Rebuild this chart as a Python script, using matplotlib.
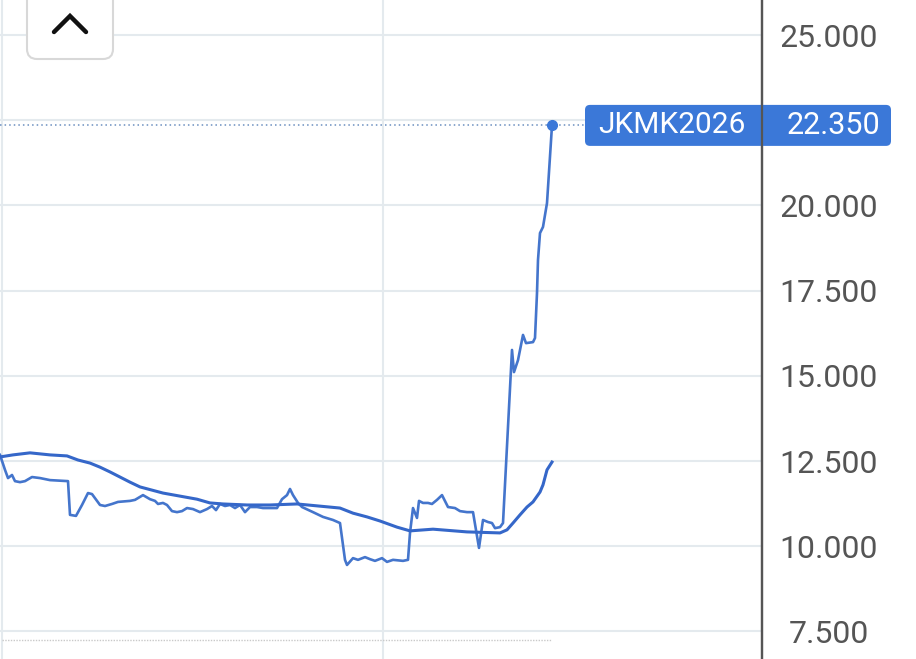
import matplotlib
matplotlib.use('Agg')
import matplotlib.pyplot as plt
import matplotlib.patches as mpatches
from matplotlib.lines import Line2D

plt.rcParams['font.family'] = ['Roboto', 'DejaVu Sans']

W, H = 916, 659

# ── data (time index, price) ──
t_price = [0, 5, 8, 12, 15, 20, 25, 32, 40, 50, 68, 70, 76, 82, 88, 92, 100, 105,
           112, 118, 130, 135, 143, 150, 155, 158, 163, 167, 172, 177, 182, 187,
           193, 200, 207, 212, 216, 220, 225, 230, 235, 240, 245, 250, 257, 263,
           277, 282, 287, 290, 293, 298, 302, 313, 323, 333, 340, 345, 347, 353,
           358, 365, 370, 375, 382, 387, 393, 403, 408, 410, 413, 417, 419, 423,
           428, 432, 437, 442, 448, 455, 460, 467, 473, 479, 483, 488, 492, 495,
           500, 503, 512, 514, 518, 523, 526, 533, 535, 537, 538, 540, 543, 547, 552]
price = [12.68, 12.24, 12.00, 12.09, 11.91, 11.88, 11.91, 12.03, 12.00, 11.94, 11.91,
         10.92, 10.89, 11.21, 11.56, 11.53, 11.21, 11.18, 11.24, 11.30, 11.33, 11.36,
         11.50, 11.38, 11.33, 11.24, 11.27, 11.21, 11.03, 11.00, 11.03, 11.12, 11.09,
         11.00, 11.09, 11.18, 11.06, 11.24, 11.18, 11.21, 11.12, 11.21, 11.00, 11.15,
         11.15, 11.12, 11.12, 11.38, 11.50, 11.68, 11.50, 11.27, 11.15, 11.00, 10.86,
         10.77, 10.68, 9.60, 9.45, 9.65, 9.60, 9.68, 9.62, 9.57, 9.65, 9.54, 9.60,
         9.57, 9.60, 10.39, 11.12, 10.83, 11.33, 11.27, 11.27, 11.24, 11.36, 11.50,
         11.15, 11.12, 11.03, 11.00, 11.00, 9.95, 10.77, 10.71, 10.68, 10.53, 10.56,
         10.68, 15.76, 15.11, 15.46, 16.20, 15.96, 15.99, 16.11, 17.43, 18.40, 19.19,
         19.37, 20.07, 22.35]

# moving average
t_ma = [0, 13, 30, 50, 67, 78, 90, 100, 110, 120, 130, 140, 163, 180, 197, 210, 223,
        247, 270, 297, 340, 353, 367, 380, 397, 410, 433, 467, 500, 507, 513, 520,
        527, 533, 540, 543, 547, 552]
ma = [12.62, 12.68, 12.74, 12.68, 12.65, 12.53, 12.44, 12.32, 12.18, 12.03, 11.88,
      11.74, 11.56, 11.47, 11.38, 11.27, 11.24, 11.21, 11.21, 11.24, 11.12, 10.97,
      10.86, 10.74, 10.56, 10.45, 10.50, 10.42, 10.39, 10.48, 10.68, 10.92, 11.15,
      11.30, 11.59, 11.80, 12.24, 12.47]

yticks = [7.5, 10, 12.5, 15, 17.5, 20, 22.5, 25]
xgrid = [2, 383]
ticker = 'JKMK2026'

BLUE = '#3b78d8'
LINE = '#4475cc'
MA_C = '#3567c9'
GRID = '#e4eaee'
YLIM = (6.69, 26.03)


def px(x, y):
    """figure pixel -> figure fraction (y from top)"""
    return x / W, 1 - y / H


fig = plt.figure(figsize=(W / 100, H / 100), dpi=100)
ax = fig.add_axes([0, 0, 762 / W, 1])
ax.set_xlim(0, 762)
ax.set_ylim(*YLIM)

for yv in yticks:
    ax.axhline(yv, color=GRID, lw=1.5, zorder=0)
for xv in xgrid:
    ax.axvline(xv, color=GRID, lw=1.5, zorder=0)

ax.plot(t_price, price, color=LINE, lw=1.9, zorder=3, solid_joinstyle='round')
ax.plot(t_ma, ma, color=MA_C, lw=2.2, zorder=3)
ax.plot(t_price[-1], price[-1], 'o', color=BLUE, ms=7, zorder=4)

# last value guide line
ax.plot([0, 585], [price[-1], price[-1]], ls=(0, (1, 2)), color='#6b8fc0', lw=1.1, zorder=2)
# faint navigator line at bottom
ax.plot([t_price[0] + 2, t_price[-1]], [7.25, 7.25], ls=(0, (1, 1)), color='#c9c9c9',
        lw=1.0, zorder=2)

for s in ['top', 'left', 'bottom']:
    ax.spines[s].set_visible(False)
ax.spines['right'].set_color('#555555')
ax.spines['right'].set_linewidth(1.6)
ax.set_xticks([])
ax.yaxis.tick_right()
ax.set_yticks(yticks)
# the 22.500 label sits under the price box, so it is left blank
ax.set_yticklabels(['' if v == 22.5 else f'{v:.3f}' for v in yticks])
ax.tick_params(axis='y', length=0, pad=48, labelsize=23, labelcolor='#555555')
for lab in ax.get_yticklabels():
    lab.set_ha('center')

# price label box (inches)
yc = (price[-1] - YLIM[0]) / (YLIM[1] - YLIM[0]) * H / 100
box = mpatches.FancyBboxPatch((5.85, yc - 0.205), 3.06, 0.41,
                              boxstyle='round,pad=0,rounding_size=0.05',
                              transform=fig.dpi_scale_trans, fc=BLUE, ec='none',
                              zorder=5)
fig.add_artist(box)
fig.text(6.72, yc, ticker, transform=fig.dpi_scale_trans, ha='center', va='center',
         color='white', fontsize=21.5, zorder=7)
fig.text(8.335, yc, f'{price[-1]:.3f}', transform=fig.dpi_scale_trans, ha='center',
         va='center', color='white', fontsize=22, zorder=7)
# axis line over the box
fig.add_artist(Line2D([762 / W, 762 / W], [0, 1], color='#555555', lw=1.6, zorder=8))

# collapse button top-left
btn = mpatches.FancyBboxPatch((0.27, H / 100 - 0.59), 0.86, 0.75,
                              boxstyle='round,pad=0,rounding_size=0.1',
                              transform=fig.dpi_scale_trans, fc='white', ec='#d8d8d8',
                              lw=1.5, zorder=9)
fig.add_artist(btn)
cx = [px(54, 32)[0], px(70, 16)[0], px(86, 32)[0]]
cy = [px(54, 32)[1], px(70, 16)[1], px(86, 32)[1]]
fig.add_artist(Line2D(cx, cy, color='#111111', lw=3.2, solid_capstyle='round',
                      solid_joinstyle='miter', zorder=10))

fig.savefig('out.png', dpi=100)
